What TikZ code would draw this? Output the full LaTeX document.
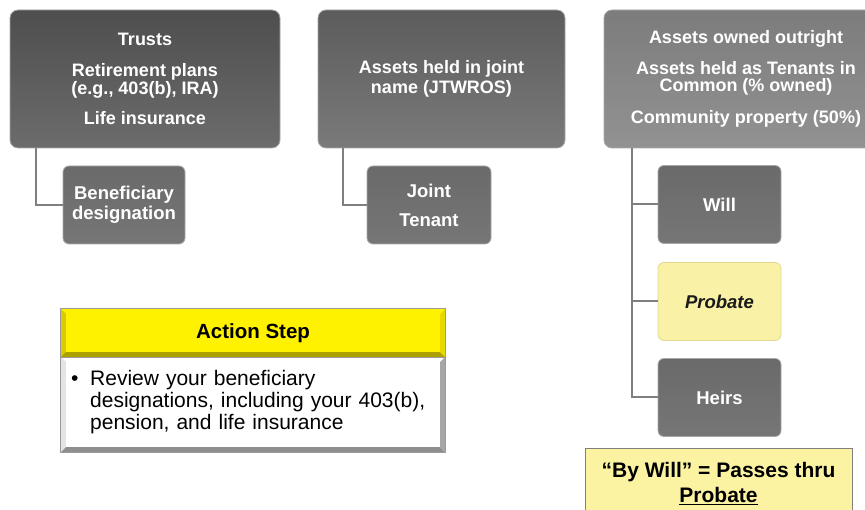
\documentclass[tikz,border=0pt]{standalone}
\usepackage{fontspec}
\setmainfont{Liberation Sans}
\definecolor{boxedge}{HTML}{A8A8A8}
\definecolor{bAtop}{HTML}{4E4E4E}
\definecolor{bAbot}{HTML}{6C6C6C}
\definecolor{bBtop}{HTML}{5C5C5C}
\definecolor{bBbot}{HTML}{7A7A7A}
\definecolor{bCtop}{HTML}{7C7C7C}
\definecolor{bCbot}{HTML}{929292}
\definecolor{subtop}{HTML}{6A6A6A}
\definecolor{subbot}{HTML}{767676}
\definecolor{conngray}{HTML}{7F7F7F}
\definecolor{probfill}{HTML}{F9F1A6}
\definecolor{probedge}{HTML}{E2D98E}
\definecolor{willfill}{HTML}{FBF3A2}
\definecolor{hdryellow}{HTML}{FFF200}
\definecolor{hdrleft}{HTML}{D9CB00}
\definecolor{hdrbot}{HTML}{ADA100}
\definecolor{hdrright}{HTML}{E6D900}
\definecolor{bodyright}{HTML}{A6A6A6}
\definecolor{bodybot}{HTML}{8E8E8E}
\definecolor{bodyleft}{HTML}{E4E4E4}
\definecolor{outerline}{HTML}{9A9A9A}
\definecolor{darktext}{HTML}{1A1A1A}
\begin{document}
\begin{tikzpicture}[x=1pt,y=-1pt,
  topbox/.style={rounded corners=8pt, draw=boxedge, line width=0.8pt, inner sep=0pt,
    text=white, font=\bfseries\fontsize{18}{17.5}\selectfont, align=center, minimum height=138pt},
  subbox/.style={rounded corners=6pt, draw=boxedge, line width=0.8pt, inner sep=0pt,
    text=white, font=\bfseries\fontsize{18.5}{20}\selectfont, align=center,
    minimum width=123pt, minimum height=78pt, top color=subtop, bottom color=subbot},
  conn/.style={draw=conngray, line width=2pt},
]
\useasboundingbox (0,0) rectangle (865,510);

% top boxes
\node[topbox, minimum width=270pt, top color=bAtop, bottom color=bAbot] (trusts) at (145,79)
  {Trusts\\[14pt]Retirement plans\\(e.g., 403(b), IRA)\\[13pt]Life insurance};
\node[topbox, minimum width=247pt, top color=bBtop, bottom color=bBbot] (joint) at (441.5,79)
  {Assets held in joint\\[2.5pt]name (JTWROS)};
\node[topbox, minimum width=284pt, top color=bCtop, bottom color=bCbot] (outright) at (746,79)
  {Assets owned outright\\[13pt]Assets held as Tenants in\\Common (\% owned)\\[14pt]Community property (50\%)};

% sub boxes
\node[subbox, minimum width=122pt] (benef) at (124,205) {Beneficiary\\designation};
\node[subbox, minimum width=124pt] (jten) at (429,205) {Joint\\[9pt]Tenant};
\node[subbox] (will) at (719.5,204.5) {Will};
\node[subbox, top color=probfill, bottom color=probfill, draw=probedge, text=darktext,
  font=\bfseries\itshape\fontsize{18.5}{20}\selectfont] (probate) at (719.5,301.5) {Probate};
\node[subbox] (heirs) at (719.5,397.5) {Heirs};

% connectors
\coordinate (tA) at ([xshift=26pt]trusts.south west);
\coordinate (tB) at ([xshift=25pt]joint.south west);
\coordinate (tC) at ([xshift=28pt]outright.south west);
\draw[conn] (tA) |- (benef.west);
\draw[conn] (tB) |- (jten.west);
\draw[conn] (tC) |- (heirs.west);
\draw[conn] (will.west -| tC) -- (will.west);
\draw[conn] (probate.west -| tC) -- (probate.west);

% Action step box
\node[fill=hdryellow, draw=none, minimum width=384pt, minimum height=48pt, inner sep=0pt] (ahead) at (253,333) {};
\node[fill=white, draw=none, minimum width=384pt, minimum height=95pt, inner sep=0pt] (abody) at (253,404.5) {};
% header bevels
\fill[hdrleft] (ahead.north west) -- ([shift={(5,5)}]ahead.north west) -- ([shift={(5,-5)}]ahead.south west) -- (ahead.south west) -- cycle;
\fill[hdrbot] (ahead.south west) -- ([shift={(5,-5)}]ahead.south west) -- ([shift={(-5,-5)}]ahead.south east) -- (ahead.south east) -- cycle;
\fill[hdrright] (ahead.north east) -- ([shift={(-5,5)}]ahead.north east) -- ([shift={(-5,-5)}]ahead.south east) -- (ahead.south east) -- cycle;
% body bevels
\fill[bodyleft] (abody.north west) -- ([shift={(5,5)}]abody.north west) -- ([shift={(5,-5)}]abody.south west) -- (abody.south west) -- cycle;
\fill[bodybot] (abody.south west) -- ([shift={(5,-5)}]abody.south west) -- ([shift={(-5,-5)}]abody.south east) -- (abody.south east) -- cycle;
\fill[bodyright] (abody.north east) -- ([shift={(-5,5)}]abody.north east) -- ([shift={(-5,-5)}]abody.south east) -- (abody.south east) -- cycle;
\draw[outerline, line width=0.8pt] (ahead.north west) rectangle (abody.south east);
\draw[outerline, line width=0.6pt] (ahead.south west) -- (ahead.south east);
\node[font=\bfseries\fontsize{20.5}{22}\selectfont] (atitle) at (ahead.center) {Action Step};
\node[anchor=north west, inner sep=0pt, text width=360pt, align=left,
  font=\fontsize{21}{22}\selectfont] (atext) at (71,370.5)
  {\makebox[19pt][l]{•}Review your beneficiary\\
   \hspace*{19pt}designations, including your 403(b),\\
   \hspace*{19pt}pension, and life insurance};

% By Will box
\node[anchor=north, fill=willfill, draw=conngray, line width=0.8pt, minimum width=267pt,
  inner xsep=0pt, inner ysep=14pt, align=center,
  font=\bfseries\fontsize{21}{25}\selectfont, text=black] (bywill) at (718.5,448)
  {“By Will” = Passes thru\\\underline{Probate}};
\end{tikzpicture}
\end{document}
